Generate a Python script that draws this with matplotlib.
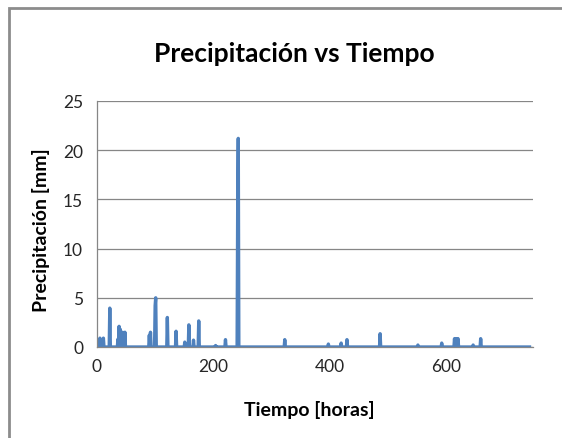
import numpy as np
import matplotlib
matplotlib.use("Agg")
import matplotlib.pyplot as plt
from matplotlib.patches import Rectangle

# Hourly record length (hours)
n_hours = 745
# Rainfall events: hour -> precipitation [mm]
event_hours = [3, 5, 8, 11, 22, 36, 38, 40, 44, 48, 90, 92, 100, 101, 121, 136,
               151, 158, 166, 175, 204, 221, 242, 243, 323, 398, 420, 430, 487,
               552, 593, 615, 617, 619, 621, 647, 660]
event_values = [0.6, 0.9, 0.7, 0.9, 3.95, 0.8, 2.1, 1.8, 1.5, 1.5, 1.2, 1.5, 4.2, 5.0, 3.0, 1.6,
                0.5, 2.25, 0.7, 2.65, 0.15, 0.75, 14.0, 21.2, 0.75, 0.3, 0.4, 0.75, 1.35,
                0.2, 0.4, 0.85, 0.85, 0.85, 0.85, 0.2, 0.85]

hours = np.arange(n_hours)
precip = np.zeros(n_hours)
precip[event_hours] = event_values

x_ticks = [0, 200, 400, 600]
y_ticks = [0, 5, 10, 15, 20, 25]

plt.rcParams['font.family'] = ['Lato', 'DejaVu Sans']

fig = plt.figure(figsize=(5.62, 4.39), dpi=100)
fig.patch.set_facecolor('white')
ax = fig.add_axes([97/562, 1-348/439, (533-97)/562, (348-102)/439])

ax.plot(hours, precip, color='#4F81BD', lw=2.4, solid_joinstyle='round')

ax.set_xlim(0, 750)
ax.set_ylim(0, 25)
ax.set_xticks(x_ticks)
ax.set_yticks(y_ticks)
ax.grid(axis='y', color='#868686', lw=0.9)
ax.set_axisbelow(True)
for s in ['top', 'right']:
    ax.spines[s].set_visible(False)
for s in ['left', 'bottom']:
    ax.spines[s].set_color('#868686')
    ax.spines[s].set_linewidth(0.9)
ax.tick_params(axis='both', length=0, labelsize=12.5, colors='#262626')
ax.tick_params(axis='y', pad=10)
ax.tick_params(axis='x', pad=8)

fig.text(294/562, 1-54/439, 'Precipitación vs Tiempo', ha='center', va='center',
         fontsize=19, fontweight='bold', color='black')
fig.text(309/562, 1-410/439, 'Tiempo [horas]', ha='center', va='center',
         fontsize=14, fontweight='bold', color='black')
fig.text(41/562, 1-230/439, 'Precipitación [mm]', ha='center', va='center',
         rotation=90, fontsize=14, fontweight='bold', color='black')

fig.patches.append(Rectangle((9/562, -0.1), 1.2, 1-9/439+0.1, transform=fig.transFigure,
                             fill=False, edgecolor='#8c8c8c', lw=2.0))

fig.savefig('out.png', dpi=100)
